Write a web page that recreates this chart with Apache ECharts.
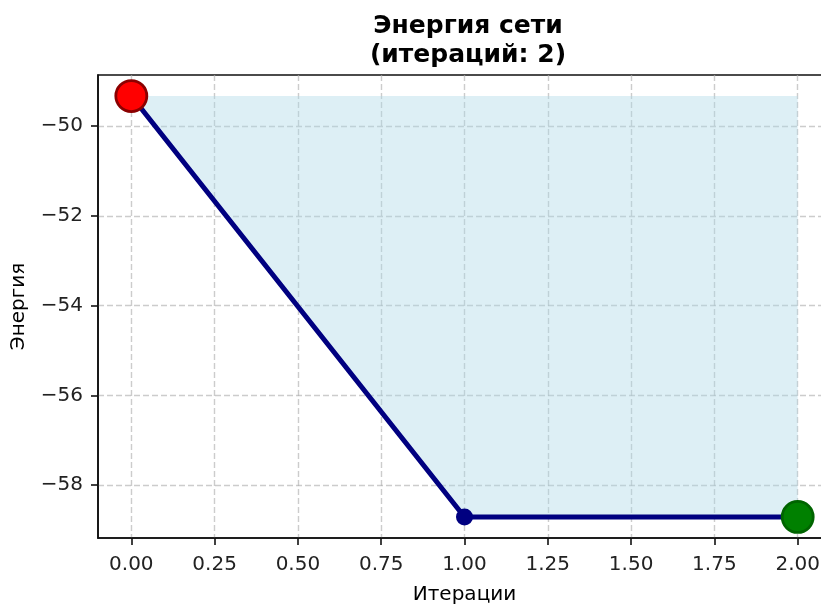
<!DOCTYPE html>
<html>
<head>
<meta charset="utf-8">
<script src="https://cdn.jsdelivr.net/npm/echarts@6/dist/echarts.min.js"></script>
<style>html,body{margin:0;padding:0;background:#fff}#c{width:821px;height:605px}</style>
</head>
<body>
<div id="c"></div>
<script>
const iterations = [0, 1, 2];
const energy = [-49.33, -58.71, -58.71];
const xTicks = [0, 0.25, 0.5, 0.75, 1.0, 1.25, 1.5, 1.75, 2.0];
const yTicks = [-58, -56, -54, -52, -50];
const titleText = 'Энергия сети\n(итераций: 2)';
const xName = 'Итерации';
const yName = 'Энергия';

const maxE = Math.max(...energy);
const minE = Math.min(...energy);
const span = maxE - minE;
const yMin = minE - span * 0.05;
const yMax = maxE + span * 0.05;
const xMin = -0.1, xMax = 2.1;

const font = 'DejaVu Sans';
const chart = echarts.init(document.getElementById('c'), null, {renderer: 'canvas'});

const areaData = iterations.map((x, i) => [x, energy[i]]);
const last = iterations.length - 1;

const lineData = iterations.map((x, i) => {
  const d = {value: [x, energy[i]]};
  if (i === 0) {
    d.symbolSize = 31;
    d.itemStyle = {color: '#ff0000', borderColor: '#8b0000', borderWidth: 2.8};
  } else if (i === last) {
    d.symbolSize = 31;
    d.itemStyle = {color: '#008000', borderColor: '#006400', borderWidth: 2.8};
  }
  return d;
});

const dash = {color: 'rgba(176,176,176,0.65)', width: 1.4, type: [6, 3]};

chart.setOption({
  animation: false,
  title: {
    text: titleText,
    left: 463, top: 7, textAlign: 'center',
    textStyle: {fontFamily: font, fontSize: 25, fontWeight: 'bold', color: '#000', lineHeight: 29}
  },
  grid: {left: 98, right: -10, top: 75, bottom: 67, outerBoundsMode: 'none', containLabel: false,
    show: true, borderColor: '#111', borderWidth: 1.6, backgroundColor: 'transparent'},
  xAxis: {
    type: 'value', min: xMin, max: xMax,
    name: xName, nameLocation: 'middle', nameGap: 47,
    nameTextStyle: {fontFamily: font, fontSize: 20, color: '#000'},
    axisLine: {show: true, onZero: false, lineStyle: {color: '#111', width: 1.6}},
    axisTick: {show: true, length: 7, lineStyle: {color: '#111', width: 1.6}, customValues: xTicks},
    axisLabel: {customValues: xTicks, fontFamily: font, fontSize: 20, color: '#222', margin: 17,
      formatter: v => v.toFixed(2)},
    splitLine: {show: true, lineStyle: dash}
  },
  yAxis: {
    type: 'value', min: yMin, max: yMax,
    name: yName, nameLocation: 'middle', nameGap: 69, nameRotate: 90,
    nameTextStyle: {fontFamily: font, fontSize: 20, color: '#000'},
    axisLine: {show: true, onZero: false, lineStyle: {color: '#111', width: 1.6}},
    axisTick: {show: true, length: 7, lineStyle: {color: '#111', width: 1.6}, customValues: yTicks},
    axisLabel: {customValues: yTicks, fontFamily: font, fontSize: 20, color: '#222', margin: 15,
      formatter: v => String(Math.round(v)).replace('-', '\u2212')},
    splitLine: {show: true, lineStyle: dash}
  },
  series: [
    {type: 'line', data: areaData, symbol: 'none',
      lineStyle: {width: 0, opacity: 0}, areaStyle: {color: 'rgba(173,216,230,0.42)', opacity: 1, origin: maxE},
      silent: true, z: 1},
    {type: 'line', data: lineData, symbol: 'circle', symbolSize: 17, showAllSymbol: true,
      lineStyle: {color: '#000080', width: 5},
      itemStyle: {color: '#000080', borderWidth: 0}, z: 5}
  ]
});
</script>
</body>
</html>
